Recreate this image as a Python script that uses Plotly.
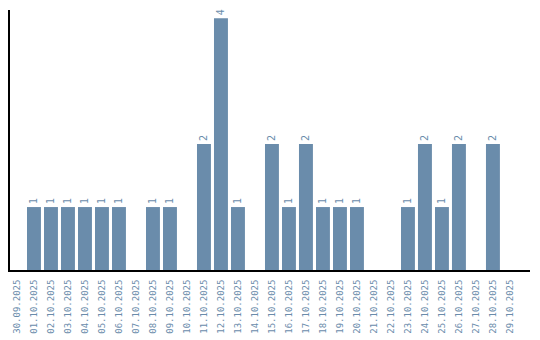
import plotly.graph_objects as go

dates = ["30.09.2025", "01.10.2025", "02.10.2025", "03.10.2025", "04.10.2025", "05.10.2025",
         "06.10.2025", "07.10.2025", "08.10.2025", "09.10.2025", "10.10.2025", "11.10.2025",
         "12.10.2025", "13.10.2025", "14.10.2025", "15.10.2025", "16.10.2025", "17.10.2025",
         "18.10.2025", "19.10.2025", "20.10.2025", "21.10.2025", "22.10.2025", "23.10.2025",
         "24.10.2025", "25.10.2025", "26.10.2025", "27.10.2025", "28.10.2025", "29.10.2025"]
counts = [0, 1, 1, 1, 1, 1, 1, 0, 1, 1, 0, 2, 4, 1, 0, 2, 1, 2, 1, 1, 1, 0, 0, 1, 2, 1, 2, 0, 2, 0]

labels = [str(v) if v > 0 else "" for v in counts]
color = "#6a8cab"

fig = go.Figure(go.Bar(
    x=dates, y=counts, marker=dict(color=color, line=dict(width=0)),
    width=0.82,
    text=labels, textposition="outside", textangle=-90,
    textfont=dict(family="DejaVu Sans Mono", size=10, color=color),
    cliponaxis=False,
))

fig.update_layout(
    width=540, height=340,
    margin=dict(l=10, r=10, t=10, b=70, autoexpand=False),
    plot_bgcolor="white", paper_bgcolor="white",
    showlegend=False,
    xaxis=dict(type="category", range=[-0.41, 30.18], tickangle=-90, showline=True,
               linecolor="black", linewidth=2, ticks="", showgrid=False, zeroline=False,
               automargin=False, ticklabelstandoff=4,
               tickfont=dict(family="DejaVu Sans Mono", size=9, color=color)),
    yaxis=dict(range=[0, 4.13], showline=True, linecolor="black", linewidth=2,
               showticklabels=False, ticks="", showgrid=False, zeroline=False),
)

fig.write_html("out.html")
